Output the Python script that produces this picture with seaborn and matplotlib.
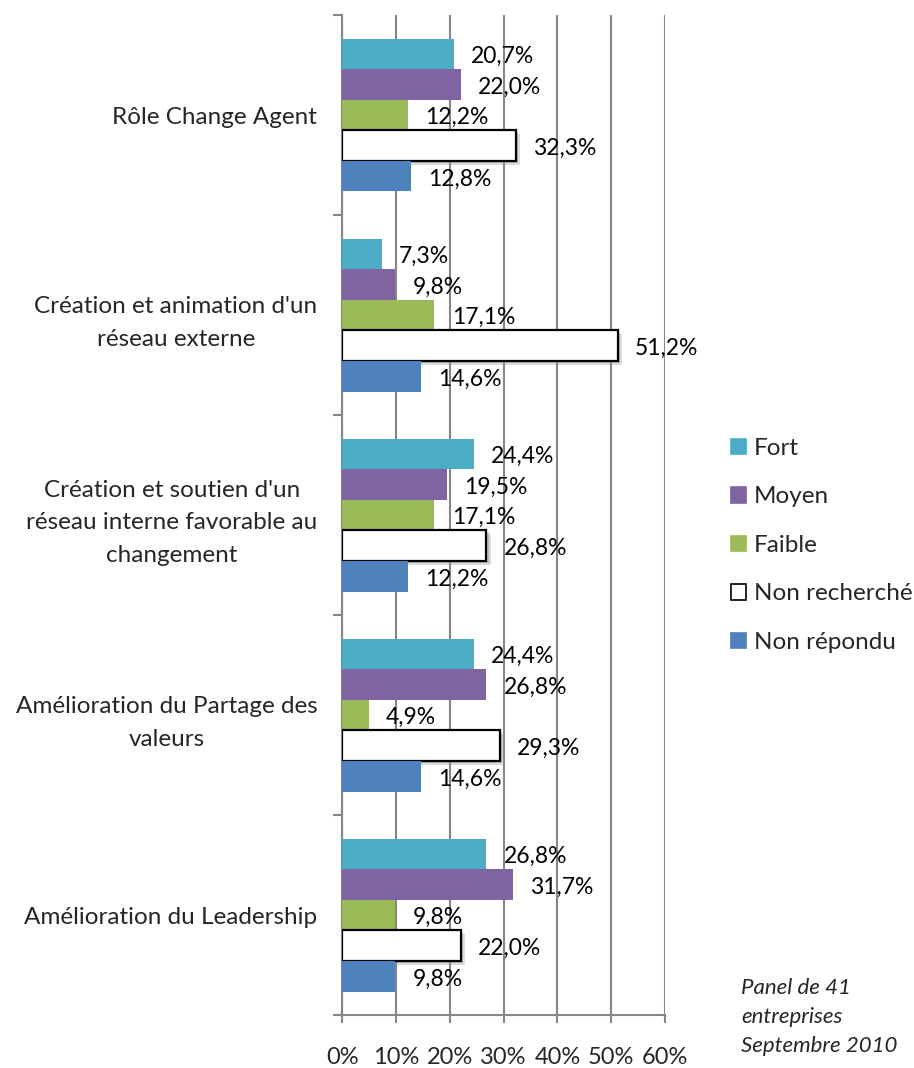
import matplotlib
matplotlib.use("Agg")
import matplotlib.pyplot as plt
import matplotlib.patheffects as pe
from matplotlib.patches import Patch
import numpy as np
import pandas as pd
import seaborn as sns

# Data
categories = [
    "Rôle Change Agent",
    "Création et animation d'un\nréseau externe",
    "Création et soutien d'un\nréseau interne favorable au\nchangement",
    "Amélioration du Partage des\nvaleurs",
    "Amélioration du Leadership",
]
series = ["Fort", "Moyen", "Faible", "Non recherché", "Non répondu"]
fort = [20.7, 7.3, 24.4, 24.4, 26.8]
moyen = [22.0, 9.8, 19.5, 26.8, 31.7]
faible = [12.2, 17.1, 17.1, 4.9, 9.8]
non_recherche = [32.3, 51.2, 26.8, 29.3, 22.0]
non_repondu = [12.8, 14.6, 12.2, 14.6, 9.8]
x_ticks = [0, 10, 20, 30, 40, 50, 60]
note = "Panel de 41\nentreprises\nSeptembre 2010"

colors = ["#4BACC6", "#8064A2", "#9BBB59", "#FFFFFF", "#4F81BD"]

values = [fort, moyen, faible, non_recherche, non_repondu]
df = pd.DataFrame(
    [(c, s, v) for s, vals in zip(series, values) for c, v in zip(categories, vals)],
    columns=["categorie", "serie", "valeur"],
)

sns.set_theme(style="white")
plt.rcParams["font.family"] = ["Lato", "DejaVu Sans"]
FS = 17.5        # category labels and legend
FS_VAL = 16.5    # value labels
FS_TICK = 17     # percent ticks

fig = plt.figure(figsize=(9.14, 10.68), dpi=100)
ax = fig.add_axes([342.3 / 914, 1 - 1015 / 1068, (665 - 342.3) / 914, (1015 - 15) / 1068])

sns.barplot(
    data=df, y="categorie", x="valeur", hue="serie",
    order=categories, hue_order=series, palette=colors,
    orient="h", width=0.765, saturation=1, ax=ax, legend=False,
)

grid_color = "#868686"
for i, cont in enumerate(ax.containers):
    for bar in cont:
        bar.set_linewidth(0)
        bar.set_zorder(3)
        if series[i] == "Non recherché":
            bar.set_edgecolor("black")
            bar.set_linewidth(1.6)
            bar.set_path_effects([
                pe.SimplePatchShadow(offset=(3, -3), shadow_rgbFace="#9a9a9a", alpha=0.35),
                pe.SimplePatchShadow(offset=(1.5, -1.5), shadow_rgbFace="#7a7a7a", alpha=0.35),
                pe.Normal(),
            ])
    labels = [f"{v:.1f}%".replace(".", ",") for v in cont.datavalues]
    for bar, lab in zip(cont, labels):
        ax.annotate(
            lab, (bar.get_width(), bar.get_y() + bar.get_height() / 2),
            xytext=(12.5, -2), textcoords="offset points",
            ha="left", va="center", fontsize=FS_VAL, color="black", zorder=5,
        )

ax.set_xlim(0, 60)
ax.set_ylim(len(categories) - 0.5, -0.5)
ax.set_xlabel("")
ax.set_ylabel("")

# x axis: percent ticks with gray gridlines
ax.set_xticks(x_ticks)
ax.set_xticklabels([f"{t}%" for t in x_ticks], fontsize=FS_TICK)
ax.xaxis.grid(True, color=grid_color, linewidth=1.5, zorder=0)
ax.set_axisbelow(True)
ax.tick_params(axis="x", which="major", direction="out", length=5.5, width=1.5,
               color=grid_color, pad=17.5, bottom=True)

# y axis: boundary tick marks, centered category labels
ax.set_yticks(np.arange(len(categories) + 1) - 0.5)
ax.set_yticklabels([])
ax.set_yticks(np.arange(len(categories)), minor=True)
ax.set_yticklabels(categories, minor=True, fontsize=FS)
for t in ax.get_yticklabels(minor=True):
    t.set_multialignment("center")
    t.set_linespacing(1.7)
ax.tick_params(axis="y", which="major", direction="out", length=6.5, width=1.5,
               color=grid_color, left=True)
ax.tick_params(axis="y", which="minor", length=0, pad=18)

for side in ["top", "right"]:
    ax.spines[side].set_visible(False)
for side in ["left", "bottom"]:
    ax.spines[side].set_color(grid_color)
    ax.spines[side].set_linewidth(1.5)

handles = [
    Patch(facecolor=c, edgecolor=("black" if s == "Non recherché" else c), linewidth=1.2)
    for s, c in zip(series, colors)
]
fig.legend(
    handles, series, loc="upper left", bbox_to_anchor=(731 / 914, 1 - 438 / 1068),
    frameon=False, fontsize=FS, handlelength=0.6, handleheight=0.6,
    handletextpad=0.35, labelspacing=1.13, borderaxespad=0, borderpad=0,
)

fig.text(741 / 914, 1 - 978 / 1068, note, ha="left", va="top", fontsize=16,
         style="italic", linespacing=1.55)

fig.savefig("out.png", dpi=100)
